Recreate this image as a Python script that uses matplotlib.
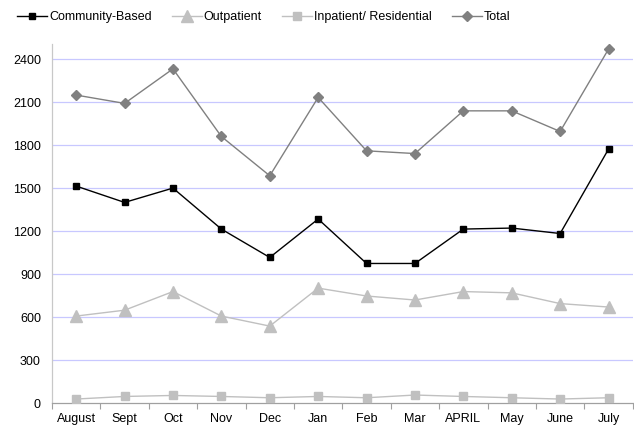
import matplotlib
matplotlib.use("Agg")
import matplotlib.pyplot as plt

plt.rcParams["font.family"] = ["Liberation Sans", "DejaVu Sans"]

months = ["August", "Sept", "Oct", "Nov", "Dec", "Jan", "Feb", "Mar",
          "APRIL", "May", "June", "July"]
community = [1514, 1400, 1500, 1214, 1016, 1284, 974, 974, 1214, 1221, 1183, 1772]
outpatient = [607, 648, 778, 607, 537, 802, 747, 719, 778, 769, 694, 670]
inpatient = [28, 46, 53, 46, 37, 46, 37, 56, 46, 37, 28, 37]
total = [2149, 2091, 2332, 1860, 1586, 2133, 1760, 1741, 2039, 2039, 1895, 2470]
yticks = [0, 300, 600, 900, 1200, 1500, 1800, 2100, 2400]

fig = plt.figure(figsize=(6.34, 4.32), dpi=100)
ax = fig.add_axes([0.082, 0.067, 0.916, 0.831])

x = range(len(months))
ax.plot(x, community, color="black", lw=1.0, marker="s", ms=5,
        label="Community-Based", zorder=5)
ax.plot(x, outpatient, color="#c0c0c0", lw=1.0, marker="^", ms=8,
        label="Outpatient", zorder=4)
ax.plot(x, inpatient, color="#c0c0c0", lw=1.0, marker="s", ms=5.5,
        label="Inpatient/ Residential", zorder=4)
ax.plot(x, total, color="#808080", lw=1.0, marker="D", ms=5,
        label="Total", zorder=5)

ax.set_xlim(-0.5, len(months) - 0.5)
ax.set_ylim(0, 2505)
ax.set_yticks(yticks)
ax.set_yticklabels([str(v) for v in yticks], fontsize=9)
ax.tick_params(axis="y", length=0, pad=8)
ax.set_xticks(list(x))
ax.set_xticklabels(months, fontsize=9)
ax.set_xticks([i + 0.5 for i in range(-1, len(months))], minor=True)
ax.tick_params(axis="x", which="major", length=0, pad=7)
ax.tick_params(axis="x", which="minor", length=4, color="#a0a0a0", width=0.8)

for v in yticks[1:]:
    ax.axhline(v, color="#c8c8ff", lw=0.9, zorder=1)

for s in ["top", "right"]:
    ax.spines[s].set_visible(False)
ax.spines["left"].set_color("#c8c8c8")
ax.spines["bottom"].set_color("#a0a0a0")
ax.spines["left"].set_linewidth(0.9)
ax.spines["bottom"].set_linewidth(0.9)

fig.legend(loc="upper center", bbox_to_anchor=(0.416, 1.0), ncol=4,
           frameon=False, fontsize=9, handlelength=2.4, handletextpad=0.15,
           columnspacing=1.6)

fig.savefig("out.png", dpi=100)
